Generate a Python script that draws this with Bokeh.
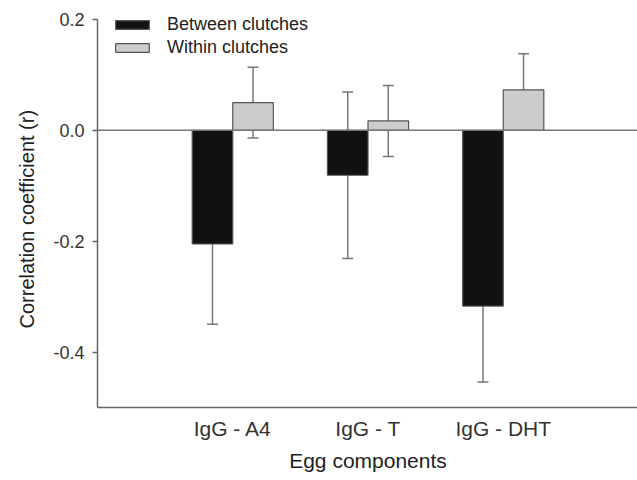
from bokeh.plotting import figure
from bokeh.models import (Range1d, FixedTicker, NumeralTickFormatter, Span, Whisker,
                          TeeHead, ColumnDataSource, Legend, LegendItem, Title)
from bokeh.embed import file_html
from bokeh.resources import INLINE

categories = ["IgG - A4", "IgG - T", "IgG - DHT"]
between_r = [-0.205, -0.081, -0.317]
between_err = [0.145, 0.150, 0.137]
within_r = [0.050, 0.017, 0.073]
within_err = [0.064, 0.064, 0.065]
y_ticks = [-0.4, -0.2, 0.0, 0.2]
series_names = ["Between clutches", "Within clutches"]
y_title = "Correlation coefficient (r)"
x_title = "Egg components"

FONT = "Liberation Sans"
pos = [i + 1 for i in range(len(categories))]
off = 0.15
bw = 0.30

src_b = ColumnDataSource(dict(
    x=[p_ - off for p_ in pos], top=between_r,
    lo=[v - e for v, e in zip(between_r, between_err)],
    hi=[v + e for v, e in zip(between_r, between_err)]))
src_w = ColumnDataSource(dict(
    x=[p_ + off for p_ in pos], top=within_r,
    lo=[v - e for v, e in zip(within_r, within_err)],
    hi=[v + e for v, e in zip(within_r, within_err)]))

# frame spans the full top of the canvas so the legend is not clipped;
# axis line limited to [-0.5, 0.2] with bounds
y_lo, y_hi = -0.5, 0.2
frame_h_axis = 388
extra_top = 19
y_top = y_hi + extra_top * (y_hi - y_lo) / frame_h_axis
frame_w = 541
x_hi = len(categories) + 1

p = figure(frame_width=frame_w, frame_height=frame_h_axis + extra_top,
           output_backend="svg", toolbar_location=None,
           x_range=Range1d(0, x_hi), y_range=Range1d(y_lo, y_top),
           min_border_left=96, min_border_right=0, min_border_top=0, min_border_bottom=73)
p.outline_line_color = None
p.xgrid.visible = False
p.ygrid.visible = False
p.background_fill_color = "white"
p.border_fill_color = "white"

# zero line
p.add_layout(Span(location=0, dimension="width", line_color="#777777", line_width=1.5))

rw = p.vbar(x="x", top="top", bottom=0, width=bw, source=src_w,
            fill_color="#cccccc", line_color="#555555", line_width=1.2)

for src in (src_b, src_w):
    p.add_layout(Whisker(source=src, base="x", lower="lo", upper="hi",
                         line_color="#777777", line_width=1.5,
                         lower_head=TeeHead(size=11, line_color="#777777", line_width=1.5),
                         upper_head=TeeHead(size=11, line_color="#777777", line_width=1.5)))

rb = p.vbar(x="x", top="top", bottom=0, width=bw, source=src_b,
            fill_color="#111111", line_color="#555555", line_width=1.2)

# axes
for ax in (p.xaxis[0], p.yaxis[0]):
    ax.axis_line_color = "#666666"
    ax.axis_line_width = 1.5
    ax.major_tick_line_color = "#666666"
    ax.major_tick_line_width = 1.5
    ax.minor_tick_line_color = None
    ax.major_label_text_font = FONT
    ax.major_label_text_color = "#333333"
    ax.axis_label_text_font = FONT
    ax.axis_label_text_font_style = "normal"
    ax.axis_label_text_color = "#222222"

p.yaxis.bounds = (y_lo, y_hi)
p.yaxis.ticker = FixedTicker(ticks=y_ticks)
p.yaxis.formatter = NumeralTickFormatter(format="0.0")
p.yaxis.major_label_text_font_size = "18px"
p.yaxis.major_tick_out = 5
p.yaxis.major_tick_in = 0
p.yaxis.major_label_standoff = 8

# y title as a left-side Title, offset so it is centred on the axis span
p.add_layout(Title(text=y_title, align="left", offset=79, standoff=26,
                   text_font=FONT, text_font_size="20px", text_font_style="normal",
                   text_color="#222222"), "left")

p.xaxis.ticker = FixedTicker(ticks=pos)
p.xaxis.major_label_overrides = {p_: c for p_, c in zip(pos, categories)}
p.xaxis.major_label_text_font_size = "21px"
p.xaxis.major_tick_out = 0
p.xaxis.major_tick_in = 0
p.xaxis.major_label_standoff = 9
p.xaxis.axis_label = x_title
p.xaxis.axis_label_text_font_size = "21px"
p.xaxis.axis_label_standoff = 6

legend = Legend(items=[LegendItem(label=series_names[0], renderers=[rb]),
                       LegendItem(label=series_names[1], renderers=[rw])],
                location=(14, 349), orientation="vertical",
                border_line_color=None, background_fill_alpha=0,
                padding=0, margin=0, spacing=2,
                glyph_width=42, glyph_height=11, label_height=21,
                label_standoff=14,
                label_text_font=FONT, label_text_font_size="18px",
                label_text_color="#222222")
p.add_layout(legend)

open("out.html", "w").write(file_html(p, INLINE))
